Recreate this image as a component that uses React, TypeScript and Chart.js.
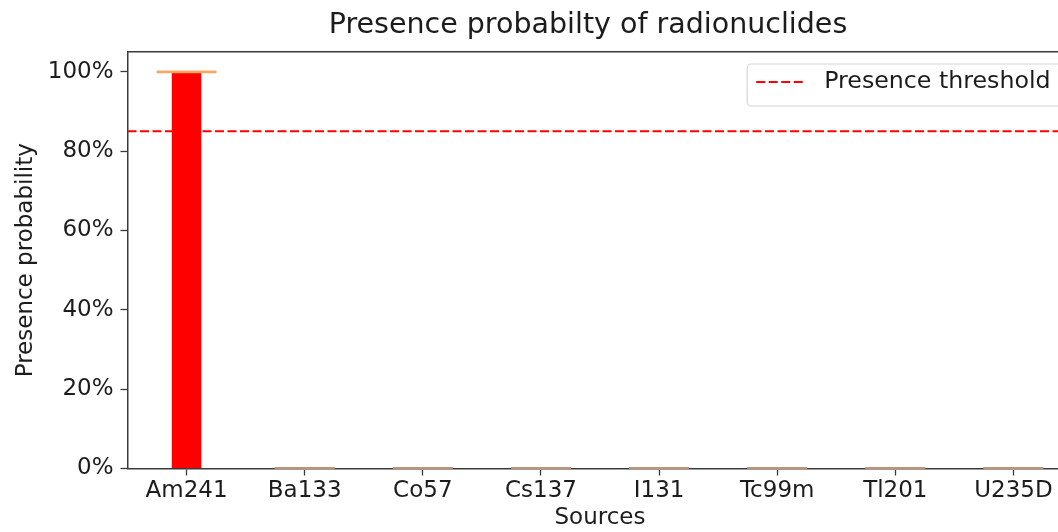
import React, { useEffect, useRef } from "react";
import { Chart, registerables } from "chart.js";

Chart.register(...registerables);

const sources = ["Am241", "Ba133", "Co57", "Cs137", "I131", "Tc99m", "Tl201", "U235D"];
const presenceProbability = [1.0, 0, 0, 0, 0, 0, 0, 0];
const medianProbability = [1.0, 0, 0, 0, 0, 0, 0, 0];
const presenceThreshold = 0.85;
const yTickValues = [0, 0.2, 0.4, 0.6, 0.8, 1.0];
const yMax = 1.05;

const FONT = '"DejaVu Sans", sans-serif';
const TEXT = "#1c1c1c";
const SPINE = "#3a3a3a";

const AREA_LEFT = 127.5;
const AREA_RIGHT = 1072.5;
const RIGHT_GUTTER = 103.5;
const CANVAS_W = AREA_RIGHT + RIGHT_GUTTER;

const framedLegend = {
  id: "framedLegend",
  afterDraw(chart: any) {
    const ds = chart.data.datasets[2];
    const { ctx, chartArea } = chart;
    ctx.save();
    ctx.font = `23.7px ${FONT}`;
    const label: string = ds.label;
    const tw = ctx.measureText(label).width;
    const padL = 9, handle = 48, gap = 20, padR = 12, h = 42;
    const right = chartArea.right - 10;
    const w = padL + handle + gap + tw + padR;
    const left = right - w;
    const top = chartArea.top + 12;
    const r = 4;
    ctx.beginPath();
    ctx.moveTo(left + r, top);
    ctx.lineTo(left + w - r, top);
    ctx.arcTo(left + w, top, left + w, top + r, r);
    ctx.lineTo(left + w, top + h - r);
    ctx.arcTo(left + w, top + h, left + w - r, top + h, r);
    ctx.lineTo(left + r, top + h);
    ctx.arcTo(left, top + h, left, top + h - r, r);
    ctx.lineTo(left, top + r);
    ctx.arcTo(left, top, left + r, top, r);
    ctx.closePath();
    ctx.fillStyle = "rgba(255,255,255,0.85)";
    ctx.fill();
    ctx.lineWidth = 1.2;
    ctx.strokeStyle = "#d6d6d6";
    ctx.stroke();
    const cy = top + 18;
    ctx.beginPath();
    ctx.setLineDash(ds.borderDash);
    ctx.strokeStyle = ds.borderColor;
    ctx.lineWidth = ds.borderWidth;
    ctx.moveTo(left + padL, cy);
    ctx.lineTo(left + padL + handle, cy);
    ctx.stroke();
    ctx.setLineDash([]);
    ctx.fillStyle = TEXT;
    ctx.textBaseline = "middle";
    ctx.textAlign = "left";
    ctx.fillText(label, left + padL + handle + gap, cy);
    ctx.restore();
  },
};

export default function App() {
  const ref = useRef<HTMLCanvasElement>(null);
  useEffect(() => {
    const n = sources.length;
    const chart = new Chart(ref.current!, {
      type: "bar",
      data: {
        labels: sources,
        datasets: [
          {
            type: "bar",
            label: "Presence probability",
            data: presenceProbability,
            backgroundColor: "#ff0000",
            borderWidth: 0,
            grouped: false,
            barPercentage: 0.25,
            categoryPercentage: 1.0,
            order: 3,
          } as any,
          {
            type: "line",
            label: "Median",
            data: medianProbability,
            showLine: false,
            pointStyle: "line",
            pointRadius: 30,
            pointBorderWidth: 2.8,
            pointBorderColor: (c: any) => ((c.raw ?? 0) > 0 ? "#f3a866" : "#b49682"),
            pointBackgroundColor: "transparent",
            clip: false,
            order: 1,
          } as any,
          {
            type: "line",
            label: "Presence threshold",
            xAxisID: "x2",
            yAxisID: "y",
            data: [
              { x: -0.5, y: presenceThreshold },
              { x: n - 0.5, y: presenceThreshold },
            ],
            borderColor: "#ff0000",
            borderWidth: 2,
            borderDash: [9, 3.5],
            pointRadius: 0,
            order: 2,
          } as any,
        ],
      },
      options: {
        responsive: false,
        animation: false,
        devicePixelRatio: 1,
        events: [],
        layout: { autoPadding: false, padding: { left: 0, right: 0, top: 0, bottom: 0 } },
        plugins: {
          legend: { display: false },
          tooltip: { enabled: false },
          title: {
            display: true,
            text: "Presence probabilty of radionuclides",
            color: TEXT,
            font: { family: FONT, size: 28.5, weight: "normal" },
            padding: { top: 8, bottom: 9.8 },
          },
        },
        scales: {
          x: {
            type: "category",
            offset: true,
            grid: {
              display: true,
              offset: false,
              drawOnChartArea: false,
              drawTicks: true,
              tickLength: 7,
              tickColor: SPINE,
              tickWidth: 1.3,
            },
            border: { display: true, color: SPINE, width: 1.5 },
            ticks: {
              color: TEXT,
              font: { family: FONT, size: 23 },
              padding: 2,
              maxRotation: 0,
              autoSkip: false,
            },
            title: {
              display: true,
              text: "Sources",
              color: TEXT,
              font: { family: FONT, size: 23 },
              padding: { top: 0, bottom: 0 },
            },
            afterFit: (s: any) => {
              s.height = 63.5;
            },
          },
          x2: {
            type: "linear",
            position: "top",
            offset: false,
            min: -0.5,
            max: n - 0.5,
            grid: { display: false, offset: false },
            ticks: { display: false },
            border: { display: true, color: SPINE, width: 1.5 },
            afterFit: (s: any) => {
              s.height = 0;
            },
          },
          y: {
            type: "linear",
            min: 0,
            max: yMax,
            grid: {
              display: true,
              drawOnChartArea: false,
              drawTicks: true,
              tickLength: 7,
              tickColor: SPINE,
              tickWidth: 1.3,
            },
            border: { display: true, color: SPINE, width: 1.5 },
            afterBuildTicks: (s: any) => {
              s.ticks = yTickValues.map((v) => ({ value: v }));
            },
            ticks: {
              color: TEXT,
              font: { family: FONT, size: 23 },
              padding: 7,
              callback: (v: any) => `${Math.round(Number(v) * 100)}%`,
            },
            title: {
              display: true,
              text: "Presence probability",
              color: TEXT,
              font: { family: FONT, size: 23 },
              padding: { top: 12, bottom: 0 },
            },
            afterFit: (s: any) => {
              s.width = AREA_LEFT;
            },
          },
          y2: {
            type: "linear",
            position: "right",
            display: true,
            grid: { display: false },
            ticks: { display: false },
            border: { display: false },
            afterFit: (s: any) => {
              s.width = RIGHT_GUTTER;
            },
          },
        },
      },
      plugins: [framedLegend],
    });
    return () => chart.destroy();
  }, []);
  return (
    <div style={{ position: "fixed", left: 0, top: 0, width: 1058, height: 532, overflow: "hidden", background: "#fff" }}>
      <canvas ref={ref} width={CANVAS_W} height={532} style={{ width: CANVAS_W, height: 532, display: "block" }} />
    </div>
  );
}
